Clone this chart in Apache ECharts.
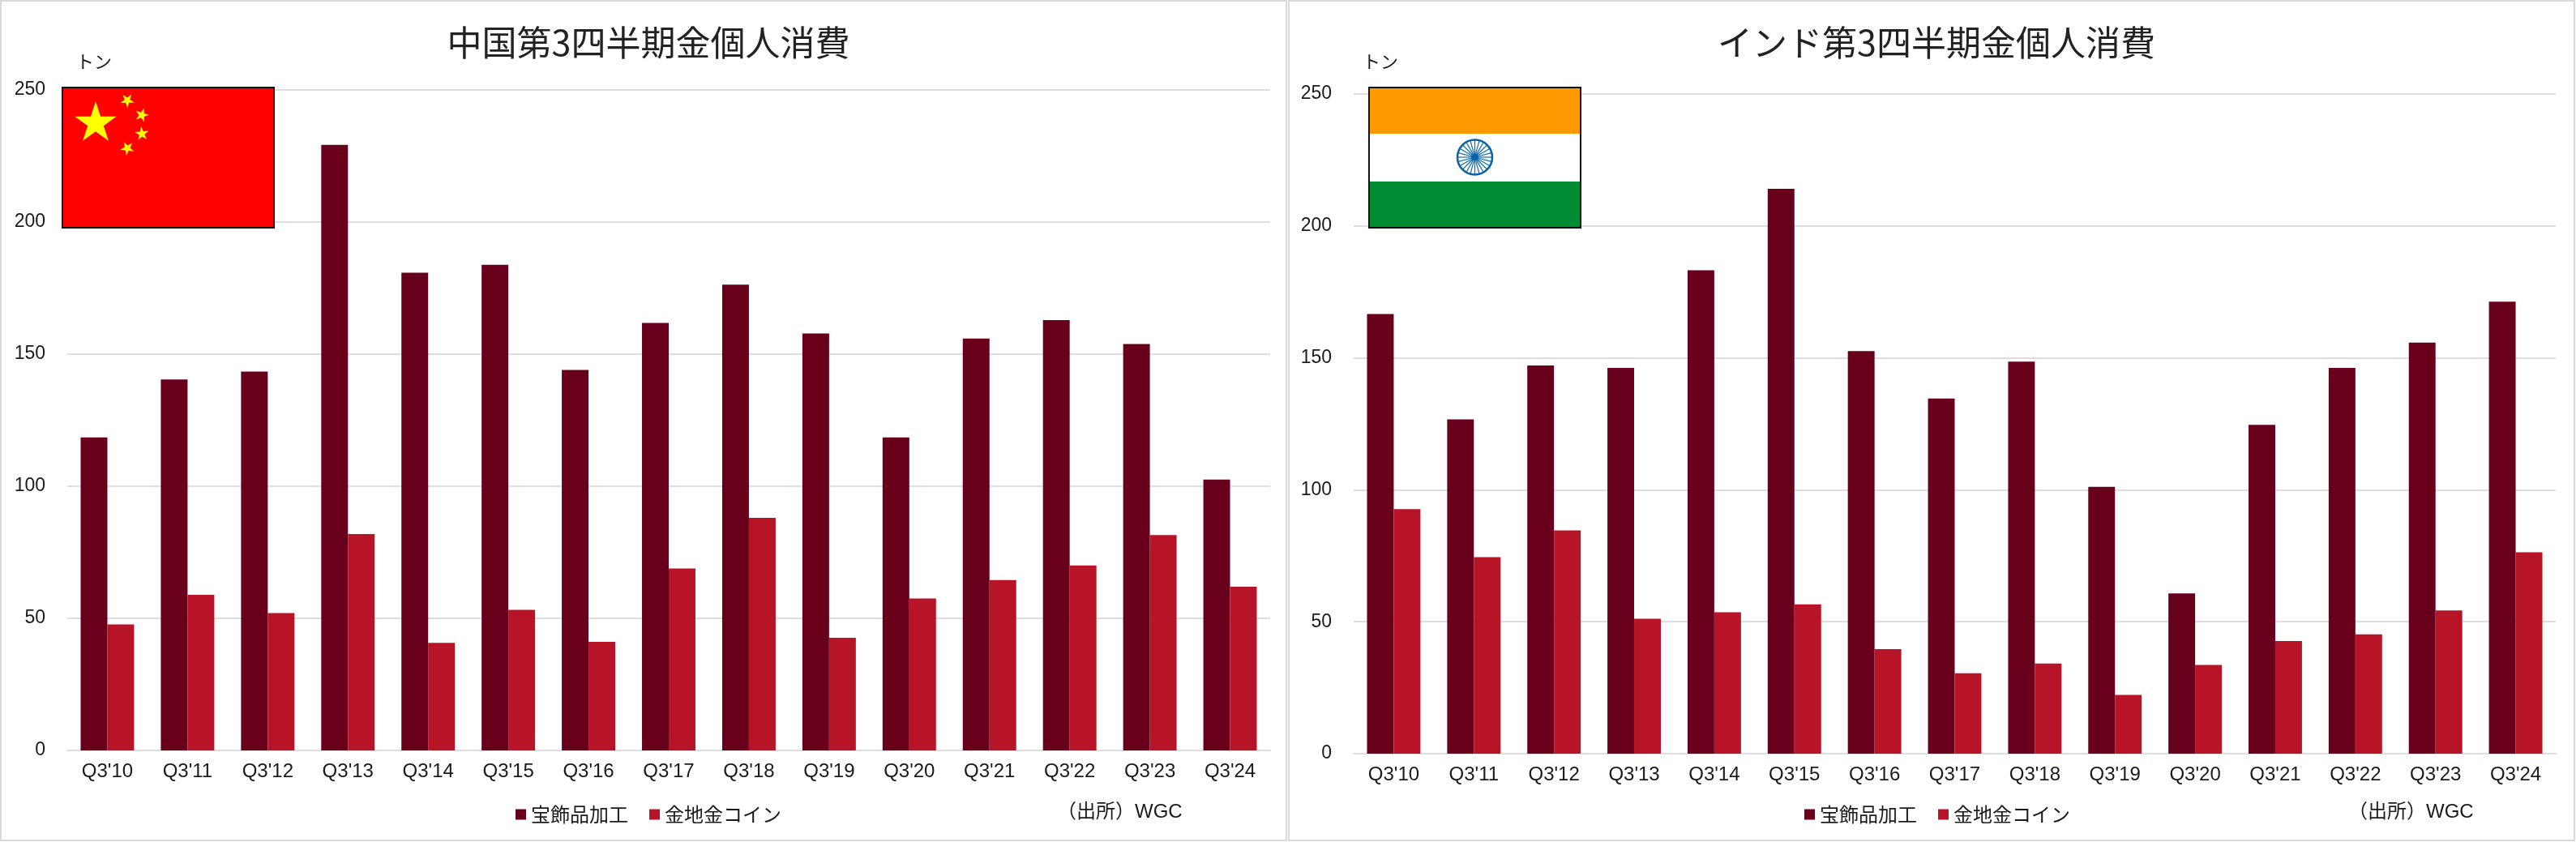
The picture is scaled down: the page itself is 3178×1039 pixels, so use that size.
<!DOCTYPE html>
<html><head><meta charset="utf-8"><style>html,body{margin:0;padding:0;background:#fff}#c{width:3178px;height:1039px}</style>
<script src="https://cdn.jsdelivr.net/npm/echarts@6/dist/echarts.min.js"></script></head><body><div id="c"></div>
<script>
const quarters=["Q3'10","Q3'11","Q3'12","Q3'13","Q3'14","Q3'15","Q3'16","Q3'17","Q3'18","Q3'19","Q3'20","Q3'21","Q3'22","Q3'23","Q3'24"];
const chinaJewellery=[118.5,140.4,143.4,229.2,180.8,183.8,144,161.8,176.3,157.8,118.5,155.9,162.9,153.8,102.5];
const chinaBarCoin=[47.7,58.9,52,81.9,40.7,53.2,41.1,68.9,88,42.6,57.5,64.5,70,81.5,62];
const indiaJewellery=[166.6,126.7,147.1,146.2,183.2,214.1,152.6,134.6,148.6,101.1,60.7,124.6,146.2,155.8,171.3];
const indiaBarCoin=[92.7,74.5,84.6,51.1,53.6,56.6,39.6,30.5,34.2,22.3,33.6,42.7,45.2,54.3,76.3];
const yTicks=[0,50,100,150,200,250];
const seriesNames=['宝飾品加工','金地金コイン'];
const titles=['中国第3四半期金個人消費','インド第3四半期金個人消費'];
const sourceNote='（出所）WGC',unitLabel='トン';
const DARK='#68001c',RED='#b81428',GRID='#dedede',TXT='#1a1a1a';
const LAT="'Liberation Sans','Noto Sans CJK JP',sans-serif",CJK="'Noto Sans CJK JP',sans-serif";
const P=[{left:83,right:1567,top:111,bottom:926,titleX:795,leg:636,src:1304,unitX:94},
{left:1670,right:3153,top:116,bottom:930,titleX:2384,leg:2226,src:2897,unitX:1681}];
const text=(x,y,t,size,font)=>({type:'text',x,y,z:20,silent:true,style:{text:t,fill:TXT,font:size+'px '+(font||CJK),align:'left',verticalAlign:'middle'}});
function star(cx,cy,r,rot){const pts=[];for(let i=0;i<10;i++){const a=rot-Math.PI/2+i*Math.PI/5,q=i%2?r*0.382:r;pts.push([cx+q*Math.cos(a),cy+q*Math.sin(a)]);}
 return {type:'polygon',z:21,shape:{points:pts},style:{fill:'#ffff00'},silent:true};}
function chinaFlag(x,y){return {type:'group',x,y,silent:true,children:[
 {type:'rect',z:20,shape:{x:0,y:0,width:261,height:173},style:{fill:'#ff0000',stroke:'#111',lineWidth:2}},
 star(41,44,27,0),star(80,16,9,0.6),star(98,34,9,0.3),star(98,57,9,-0.1),star(80,75,9,-0.5)]};}
function indiaFlag(x,y){const ch=[
 {type:'rect',z:20,shape:{x:0,y:0,width:261,height:57},style:{fill:'#ff9900'}},
 {type:'rect',z:20,shape:{x:0,y:57,width:261,height:59},style:{fill:'#ffffff'}},
 {type:'rect',z:20,shape:{x:0,y:116,width:261,height:57},style:{fill:'#008c32'}}];
 const cx=130.5,cy=86;
 for(let i=0;i<24;i++){const a=i*Math.PI/12;ch.push({type:'line',z:21,shape:{x1:cx+5*Math.cos(a),y1:cy+5*Math.sin(a),x2:cx+21*Math.cos(a),y2:cy+21*Math.sin(a)},style:{stroke:'#0a6ab0',lineWidth:1.2}});}
 ch.push({type:'circle',z:21,shape:{cx,cy,r:21.5},style:{fill:'none',stroke:'#0a63a8',lineWidth:2.5}});
 ch.push({type:'circle',z:21,shape:{cx,cy,r:5},style:{fill:'#0a63a8'}});
 ch.push({type:'rect',z:22,shape:{x:0,y:0,width:261,height:173},style:{fill:'none',stroke:'#111',lineWidth:2}});
 return {type:'group',x,y,silent:true,children:ch};}
const bar=(name,data,color,i)=>({name,type:'bar',xAxisIndex:i,yAxisIndex:i,data,barWidth:'33.33%',barGap:'0%',itemStyle:{color},animation:false});
const option={animation:false,backgroundColor:'#fff',
 grid:P.map(p=>({left:p.left,width:p.right-p.left,top:p.top,height:p.bottom-p.top,containLabel:false})),
 title:P.map((p,i)=>({text:titles[i],left:p.titleX,top:26,textAlign:'center',textStyle:{fontFamily:CJK,fontSize:43,fontWeight:'normal',color:'#222'}})),
 legend:P.map(p=>({left:p.leg,top:993,padding:0,icon:'rect',itemWidth:13,itemHeight:13,itemGap:26,data:seriesNames,selectedMode:false,textStyle:{fontFamily:CJK,fontSize:24,color:TXT,padding:[0,0,0,1]}})),
 xAxis:P.map((p,i)=>({type:'category',gridIndex:i,data:quarters,axisTick:{show:false},axisLine:{lineStyle:{color:GRID,width:2}},axisLabel:{interval:0,margin:14,fontFamily:LAT,fontSize:24,color:TXT}})),
 yAxis:P.map((p,i)=>({type:'value',gridIndex:i,min:yTicks[0],max:yTicks[5],interval:yTicks[1]-yTicks[0],axisLine:{show:false},axisTick:{show:false},splitLine:{lineStyle:{color:GRID,width:2}},axisLabel:{margin:27,fontFamily:LAT,fontSize:23,color:TXT}})),
 series:[bar(seriesNames[0],chinaJewellery,DARK,0),bar(seriesNames[1],chinaBarCoin,RED,0),bar(seriesNames[0],indiaJewellery,DARK,1),bar(seriesNames[1],indiaBarCoin,RED,1)],
 graphic:[
  {type:'rect',silent:true,z:-10,shape:{x:1,y:1,width:1586,height:1036},style:{fill:'none',stroke:'#d9d9d9',lineWidth:2}},
  {type:'rect',silent:true,z:-10,shape:{x:1590,y:1,width:1586,height:1036},style:{fill:'none',stroke:'#d9d9d9',lineWidth:2}},
  chinaFlag(77,108),indiaFlag(1689,108),
  text(P[0].unitX,76,unitLabel,22),text(P[1].unitX,76,unitLabel,22),
  text(P[0].src,1002,sourceNote,24,LAT),text(P[1].src,1002,sourceNote,24,LAT)]};
const chart=echarts.init(document.getElementById('c'),null,{renderer:'canvas'});chart.setOption(option);
</script></body></html>
